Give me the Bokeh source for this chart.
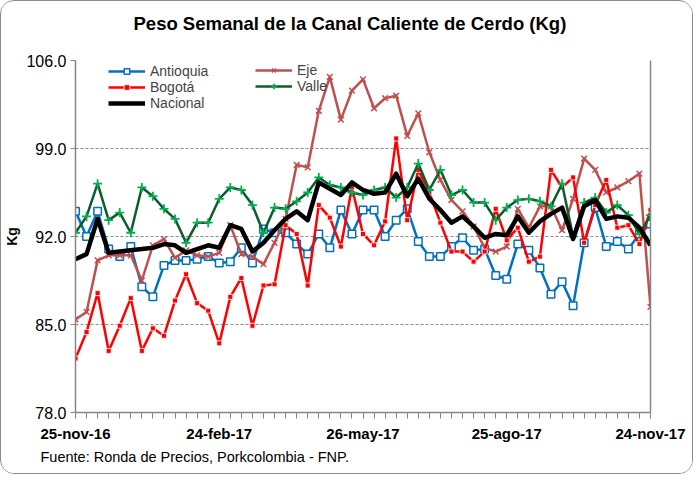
from bokeh.plotting import figure
from bokeh.models import (FixedTicker, LinearAxis, Range1d, Legend, LegendItem,
                          Title, NumeralTickFormatter)
from bokeh.embed import file_html
from bokeh.resources import INLINE

# ---------------- data (weekly, 25-nov-16 .. 24-nov-17) ----------------
semana = list(range(53))
tick_pos = [0, 13, 26, 39, 52]
tick_labels = ["25-nov-16", "24-feb-17", "26-may-17", "25-ago-17", "24-nov-17"]
y_ticks = [78, 85, 92, 99, 106]

antioquia = [94.0, 92.0, 94.0, 91.0, 90.4, 91.2, 88.0, 87.2, 89.7, 90.1,
             90.1, 90.2, 90.4, 89.9, 90.0, 91.1, 89.9, 92.6, 92.3, 92.3,
             91.4, 90.6, 92.2, 91.1, 94.1, 92.2, 94.1, 94.1, 92.0, 93.3,
             94.2, 91.6, 90.4, 90.4, 91.2, 91.9, 90.9, 91.0, 88.9, 88.6,
             91.4, 90.9, 89.5, 87.4, 88.4, 86.5, 91.5, 94.3, 91.2, 91.6,
             91.0, 92.2, 93.0]
eje = [85.4, 86.0, 90.1, 90.5, 90.5, 90.5, 88.5, 91.3, 91.8, 90.3,
       90.9, 90.5, 90.4, 90.7, 92.9, 90.6, 90.4, 89.8, 91.5, 93.4,
       97.7, 97.5, 102.0, 104.7, 101.3, 103.6, 104.5, 102.2, 103.0, 103.2,
       100.0, 101.8, 98.7, 96.5, 94.9, 94.0, 92.8, 91.1, 90.8, 91.2,
       94.2, 92.7, 94.4, 94.4, 92.5, 95.0, 98.2, 97.3, 95.5, 95.9,
       96.4, 97.0, 86.4]
bogota = [82.3, 84.4, 87.5, 82.9, 84.9, 87.1, 82.9, 84.7, 84.1, 86.9,
          89.0, 86.7, 86.1, 83.5, 87.2, 88.7, 84.9, 88.1, 88.2, 92.9,
          92.2, 88.1, 94.5, 93.5, 91.2, 95.9, 92.2, 91.3, 93.2, 99.8,
          93.3, 97.3, 95.5, 93.1, 90.8, 90.8, 90.0, 90.8, 94.2, 91.7,
          92.7, 90.0, 90.4, 97.3, 95.9, 96.7, 91.5, 94.5, 96.5, 92.7,
          92.9, 91.4, 94.1]
valle = [92.3, 93.6, 96.2, 93.3, 93.9, 92.3, 95.9, 95.2, 94.2, 93.4,
         91.5, 93.1, 93.1, 95.0, 95.9, 95.7, 94.5, 92.3, 94.3, 94.2,
         94.8, 95.5, 96.7, 96.1, 95.9, 95.5, 95.3, 95.7, 95.9, 95.1,
         95.9, 97.8, 95.7, 97.3, 95.3, 95.7, 94.7, 94.7, 93.3, 94.3,
         94.9, 95.0, 94.8, 94.4, 96.2, 92.0, 94.7, 95.1, 93.9, 94.5,
         93.7, 92.2, 93.7]
nacional = [90.2, 90.6, 93.4, 90.7, 90.8, 90.9, 91.0, 91.1, 91.4, 91.3,
            90.7, 91.0, 91.3, 91.1, 92.9, 92.6, 90.8, 91.5, 92.5, 93.4,
            94.0, 93.3, 96.3, 95.8, 95.3, 96.3, 95.7, 95.4, 95.5, 97.0,
            95.2, 96.6, 95.0, 94.1, 93.1, 93.6, 92.8, 91.9, 92.2, 92.1,
            93.6, 92.3, 93.2, 93.8, 94.3, 91.8, 94.4, 94.9, 93.4, 93.6,
            93.5, 92.7, 91.3]

FONT = "Liberation Sans"
GRAY = "#868686"

p = figure(width=693, height=474, output_backend="svg", toolbar_location=None,
           title=None,
           x_range=Range1d(0, 52), y_range=Range1d(78, 106),
           min_border_left=72, min_border_right=44,
           min_border_top=59, min_border_bottom=63)
p.outline_line_color = None
p.background_fill_color = "white"
p.border_fill_color = "white"
p.styles = {"border": "1.5px solid #8a8a8a", "border-radius": "14px",
            "box-sizing": "border-box", "overflow": "hidden"}

# titles: a blank spacer next to the frame, then the main title above it
p.add_layout(Title(text=" ", text_font=FONT, text_font_size="10px",
                   standoff=12), "above")
p.add_layout(Title(text="Peso Semanal de la Canal Caliente de Cerdo (Kg)",
                   align="left", vertical_align="top", offset=58, standoff=0,
                   text_font=FONT, text_font_style="bold",
                   text_font_size="18.5px", text_color="black"), "above")
p.add_layout(Title(text="Fuente: Ronda de Precios, Porkcolombia  - FNP.",
                   align="left", offset=-35, standoff=4,
                   text_font=FONT, text_font_style="normal",
                   text_font_size="14.5px", text_color="black"), "below")

# y axis
p.yaxis.ticker = FixedTicker(ticks=y_ticks)
p.yaxis.formatter = NumeralTickFormatter(format="0.0")
p.yaxis.axis_line_color = GRAY
p.yaxis.axis_line_width = 1.5
p.yaxis.major_tick_line_color = GRAY
p.yaxis.major_tick_out = 5
p.yaxis.major_tick_in = 0
p.yaxis.minor_tick_line_color = None
p.yaxis.major_label_text_font = FONT
p.yaxis.major_label_text_font_size = "16px"
p.yaxis.major_label_text_color = "black"
p.yaxis.major_label_standoff = 4
p.yaxis.axis_label = "Kg"
p.yaxis.axis_label_text_font = FONT
p.yaxis.axis_label_text_font_style = "bold"
p.yaxis.axis_label_text_font_size = "14px"
p.yaxis.axis_label_text_color = "black"
p.yaxis.axis_label_standoff = 3

# x axis
p.xaxis.ticker = FixedTicker(ticks=tick_pos, minor_ticks=semana)
p.xaxis.major_label_overrides = dict(zip(tick_pos, tick_labels))
p.xaxis.axis_line_color = GRAY
p.xaxis.axis_line_width = 1.5
p.xaxis.major_tick_line_color = GRAY
p.xaxis.minor_tick_line_color = GRAY
p.xaxis.major_tick_out = 6
p.xaxis.major_tick_in = 0
p.xaxis.minor_tick_out = 6
p.xaxis.minor_tick_in = 0
p.xaxis.major_label_text_font = FONT
p.xaxis.major_label_text_font_style = "bold"
p.xaxis.major_label_text_font_size = "15px"
p.xaxis.major_label_text_color = "black"
p.xaxis.major_label_standoff = 6

# right border as an empty axis
right = LinearAxis(ticker=FixedTicker(ticks=[]), axis_line_color=GRAY,
                   axis_line_width=1.5, major_label_text_font_size="0px",
                   major_tick_line_color=None, minor_tick_line_color=None)
p.add_layout(right, "right")

p.xgrid.visible = False
p.ygrid.ticker = FixedTicker(ticks=y_ticks)
p.ygrid.grid_line_color = "#8c8c8c"
p.ygrid.grid_line_dash = "3 2"
p.ygrid.grid_line_width = 1

# series
l_ant = p.line(semana, antioquia, line_color="#0070C0", line_width=2.5, line_join="round")
s_ant = p.scatter(semana, antioquia, marker="square", size=7.5, fill_color="white",
                  line_color="#0070C0", line_width=1.5)
l_eje = p.line(semana, eje, line_color="#C0504D", line_width=2.5, line_join="round")
s_eje = p.scatter(semana, eje, marker="x", size=8, line_color="#C0504D", line_width=1.5)
l_bog = p.line(semana, bogota, line_color="#FF0000", line_width=2.5, line_join="round")
s_bog = p.scatter(semana, bogota, marker="square", size=5, fill_color="#FF0000",
                  line_color="white", line_width=0.8)
l_val = p.line(semana, valle, line_color="#0B5E2C", line_width=2.5, line_join="round")
s_val = p.scatter(semana, valle, marker="cross", size=9, line_color="#00B050", line_width=1.8)
l_nac = p.line(semana, nacional, line_color="black", line_width=4.5, line_join="round")

def make_legend(items, loc):
    leg = Legend(items=items, location=loc, padding=0, margin=0,
                 border_line_color=None, background_fill_alpha=0,
                 glyph_width=37, glyph_height=14, label_height=14, spacing=0,
                 label_standoff=5, label_text_font=FONT,
                 label_text_font_size="14px")
    return leg

leg1 = make_legend([LegendItem(label="Antioquia", renderers=[l_ant, s_ant]),
                    LegendItem(label="Bogotá", renderers=[l_bog, s_bog]),
                    LegendItem(label="Nacional", renderers=[l_nac])], (33, 301))
leg2 = make_legend([LegendItem(label="Eje", renderers=[l_eje, s_eje]),
                    LegendItem(label="Valle", renderers=[l_val, s_val])], (180, 318))
p.add_layout(leg1)
p.add_layout(leg2)

open("out.html", "w").write(file_html(p, INLINE))
